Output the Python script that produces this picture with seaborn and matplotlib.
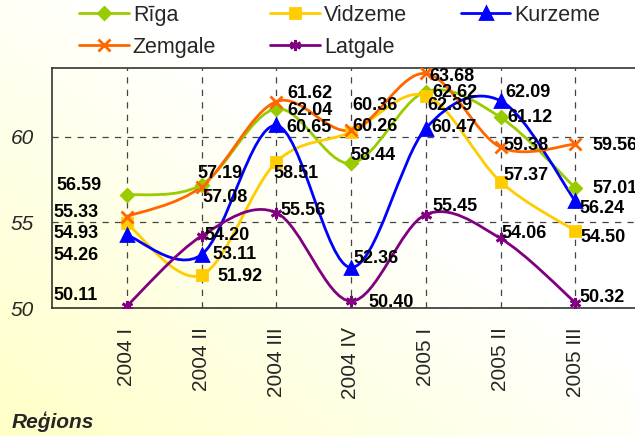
import numpy as np
import pandas as pd
import matplotlib
matplotlib.use('Agg')
import matplotlib.pyplot as plt
from matplotlib.path import Path
from matplotlib.patches import PathPatch
from matplotlib.lines import Line2D
import seaborn as sns

# Chart data
quarters = ['2004 I', '2004 II', '2004 III', '2004 IV', '2005 I', '2005 II', '2005 III']
regions = ['Rīga', 'Vidzeme', 'Kurzeme', 'Zemgale', 'Latgale']
riga = [56.59, 57.19, 61.62, 58.44, 62.62, 61.12, 57.01]
vidzeme = [54.93, 51.92, 58.51, 60.26, 62.39, 57.37, 54.50]
kurzeme = [54.26, 53.11, 60.65, 52.36, 60.47, 62.09, 56.24]
zemgale = [55.33, 57.08, 62.04, 60.36, 63.68, 59.38, 59.56]
latgale = [50.11, 54.20, 55.56, 50.40, 55.45, 54.06, 50.32]

# Styles per region
colors = {'Rīga': '#99CC00', 'Vidzeme': '#FFCC00', 'Kurzeme': '#0000FF',
          'Zemgale': '#FF6600', 'Latgale': '#800080'}
markers = {'Rīga': 'D', 'Vidzeme': 's', 'Kurzeme': '^', 'Zemgale': 'x', 'Latgale': (6, 2, 0)}
msizes = {'Rīga': 6.5, 'Vidzeme': 7.5, 'Kurzeme': 8, 'Zemgale': 8, 'Latgale': 8}

# Label offsets in pixels (left edge, vertical centre), hand-placed like the original
offsets = {
    'Rīga': [(-70, -10), (-4, -11), (11, -15), (-1, -8), (7, 1), (7, 0), (17, 1)],
    'Vidzeme': [(-73, 10), (16, 1), (-3, 11), (1, -6), (2, 10), (3, -6), (5, 7)],
    'Kurzeme': [(-73, 21), (11, 0), (10, 2), (2, -9), (6, -1), (5, -8), (4, 7)],
    'Zemgale': [(-73, -4), (1, 11), (11, 9), (1, -25), (4, 3), (3, -2), (17, 1)],
    'Latgale': [(-73, -11), (3, -1), (4, -2), (17, 1), (7, -8), (1, -5), (4, -5)],
}

# Long-form table
df = pd.DataFrame({'Rīga': riga, 'Vidzeme': vidzeme, 'Kurzeme': kurzeme,
                   'Zemgale': zemgale, 'Latgale': latgale})
df['pos'] = np.arange(len(quarters))
long_df = df.melt(id_vars='pos', var_name='region', value_name='value')

sns.set_style('white')
plt.rcParams['font.family'] = ['Liberation Sans', 'DejaVu Sans']

fig = plt.figure(figsize=(6.35, 4.36), dpi=100)

# Yellow-to-white gradient background
bg = fig.add_axes([0, 0, 1, 1], zorder=-10)
u = np.linspace(0, 1, 200)
v = np.linspace(1, 0, 200)
U, V = np.meshgrid(u, v)
s = np.clip(1 - 0.85 * U - 0.85 * V, 0, 1)
img = np.dstack([np.ones_like(s), np.ones_like(s), 1 - s * 0.22])
bg.imshow(img, aspect='auto', extent=[0, 1, 0, 1])
bg.axis('off')

ax = fig.add_axes([52 / 635, 128 / 436, 598 / 635, 240 / 436])
ax.set_facecolor('none')


def smooth_path(xs, ys):
    # Bezier path through the points (Excel-like smoothed line)
    pts = np.column_stack([xs, ys])
    n = len(pts)
    verts = [pts[0]]
    codes = [Path.MOVETO]
    for i in range(n - 1):
        p0 = pts[max(i - 1, 0)]
        p1 = pts[i]
        p2 = pts[i + 1]
        p3 = pts[min(i + 2, n - 1)]
        c1 = p1 + (p2 - p0) / 6
        c2 = p2 - (p3 - p1) / 6
        verts += [c1, c2, p2]
        codes += [Path.CURVE4] * 3
    return Path(verts, codes)


for reg in regions:
    sub = long_df[long_df['region'] == reg]
    path = smooth_path(sub['pos'].values, sub['value'].values)
    ax.add_patch(PathPatch(path, facecolor='none', edgecolor=colors[reg], lw=2, zorder=2))
    sns.lineplot(data=sub, x='pos', y='value', color=colors[reg], marker=markers[reg],
                 markersize=msizes[reg], markeredgewidth=2, markeredgecolor=colors[reg],
                 linewidth=0, ax=ax, zorder=3, legend=False)

# Data labels
for reg in regions:
    sub = long_df[long_df['region'] == reg]
    for (x, y), (dx, dy) in zip(zip(sub['pos'], sub['value']), offsets[reg]):
        ax.annotate(f'{y:.2f}', (x, y), xytext=(dx, -dy), textcoords='offset pixels',
                    ha='left', va='center', fontsize=13, fontweight='bold', color='black',
                    zorder=5, annotation_clip=False)

ax.set_xlim(-1, 7)
ax.set_ylim(50, 64)
ax.set_xticks(range(len(quarters)))
ax.set_xticklabels(quarters, rotation=90, fontsize=15)
ax.set_yticks([50, 55, 60])
ax.set_yticklabels(['50', '55', '60'], fontsize=15, style='italic')
ax.tick_params(axis='x', length=0, pad=14)
ax.tick_params(axis='y', length=0, pad=13)
ax.set_xlabel('')
ax.set_ylabel('')
ax.grid(True, color='#444444', linestyle=(0, (5, 5)), linewidth=0.9)
for side in ['left', 'bottom', 'top']:
    ax.spines[side].set_color('#333333')
    ax.spines[side].set_linewidth(1.2)
ax.spines['right'].set_visible(False)

# Legend (column order gives Rīga, Vidzeme, Kurzeme / Zemgale, Latgale rows)
order = ['Rīga', 'Zemgale', 'Vidzeme', 'Latgale', 'Kurzeme']
handles = [Line2D([], [], color=colors[r], lw=2, marker=markers[r], markersize=msizes[r],
                  markeredgewidth=2, markeredgecolor=colors[r]) for r in order]
fig.legend(handles, order, loc='upper left', bbox_to_anchor=(79 / 635, 1 - 5 / 436),
           bbox_transform=fig.transFigure, ncol=3, frameon=False, fontsize=15.5,
           handlelength=2.3, handletextpad=0.2, columnspacing=2.5, labelspacing=0.5,
           borderpad=0, borderaxespad=0)

fig.text(12 / 635, 1 - 422 / 436, 'Reģions', fontsize=15, fontweight='bold',
         style='italic', va='center', ha='left')

fig.savefig('out.png', dpi=100)
